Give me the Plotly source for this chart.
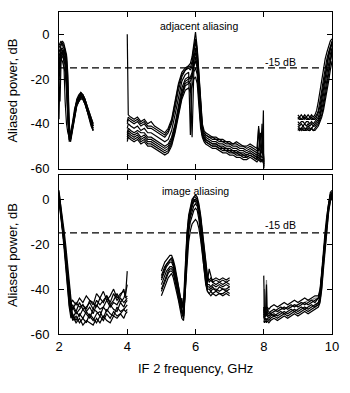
import plotly.graph_objects as go
from plotly.subplots import make_subplots

# ---------------- data ----------------
ytick_vals = [0, -20, -40, -60]
ytick_text = ["0", "-20", "-40", "-60"]
xtick_vals = [2, 4, 6, 8, 10]
xtick_text = ["2", "4", "6", "8", "10"]
threshold_db = -15
threshold_label = "-15 dB"

# Top panel: adjacent aliasing
adj_a_x = [2.0, 2.03, 2.06, 2.1, 2.14, 2.18, 2.22, 2.26, 2.3, 2.34, 2.4, 2.46, 2.52, 2.58, 2.64, 2.7, 2.76, 2.82, 2.88, 2.94, 3.0]
adj_a_y = [
    [-5, -4, -3, -5, -6, -8, -10, -22, -42, -46, -40, -34, -30, -28, -26, -27, -29, -32, -35, -38, -40],
    [-8, -6, -5, -4, -5, -7, -12, -28, -44, -47, -41, -35, -31, -29, -27, -28, -30, -33, -36, -39, -41],
    [-12, -9, -7, -6, -8, -9, -14, -32, -46, -45, -39, -33, -29, -27, -26, -27, -29, -32, -36, -39, -42],
    [-18, -10, -8, -9, -7, -10, -16, -35, -47, -48, -42, -36, -32, -30, -28, -29, -31, -34, -37, -40, -43],
    [-25, -30, -12, -8, -9, -11, -18, -38, -48, -46, -40, -34, -30, -28, -27, -28, -30, -33, -36, -38, -41],
    [-38, -15, -9, -7, -10, -12, -20, -40, -45, -44, -39, -33, -30, -28, -27, -27, -29, -32, -35, -38, -40],
    [-10, -7, -6, -8, -12, -30, -40, -44, -46, -45, -41, -35, -31, -29, -28, -28, -30, -33, -37, -40, -42],
    [-6, -5, -4, -3, -4, -6, -9, -18, -40, -47, -42, -36, -32, -30, -28, -29, -31, -34, -37, -39, -41],
    [-14, -11, -9, -10, -11, -14, -22, -36, -44, -46, -41, -35, -31, -29, -27, -28, -30, -33, -36, -39, -43],
    [-20, -13, -11, -12, -14, -17, -25, -39, -47, -45, -40, -35, -31, -30, -29, -29, -31, -34, -38, -41, -43],
]

adj_b_x = [4.0, 4.03, 4.1, 4.2, 4.3, 4.4, 4.5, 4.6, 4.7, 4.8, 4.9, 5.0, 5.1, 5.2, 5.3, 5.4, 5.5, 5.6, 5.7, 5.8,
           5.85, 5.9, 5.95, 6.0, 6.05, 6.1, 6.15, 6.2, 6.25, 6.3, 6.4, 6.5, 6.6, 6.7, 6.8, 6.9, 7.0, 7.1, 7.2, 7.3,
           7.4, 7.5, 7.6, 7.7, 7.8, 7.85, 7.9, 7.95, 7.99, 8.0]
adj_b_y = [
    [0, -36, -37, -38, -37, -39, -38, -40, -39, -41, -42, -43, -44, -42, -38, -30, -22, -17, -15, -14,
     -13, -10, -5, 1, -6, -18, -32, -40, -43, -44, -45, -46, -46, -47, -47, -48, -48, -49, -48, -49,
     -50, -50, -49, -50, -51, -42, -50, -52, -53, -56],
    [-40, -38, -39, -40, -39, -41, -40, -42, -42, -43, -44, -45, -46, -44, -40, -33, -25, -19, -16, -15,
     -16, -14, -8, -3, -9, -20, -34, -42, -44, -45, -46, -47, -47, -48, -48, -49, -49, -50, -50, -51,
     -51, -52, -51, -52, -53, -52, -44, -53, -54, -57],
    [-42, -40, -41, -42, -41, -43, -42, -44, -44, -45, -46, -47, -48, -47, -43, -36, -28, -21, -18, -17,
     -45, -20, -12, -8, -12, -24, -36, -43, -45, -46, -47, -48, -48, -49, -49, -50, -50, -51, -51, -52,
     -52, -53, -52, -53, -54, -53, -54, -55, -55, -58],
    [-44, -42, -43, -44, -43, -44, -44, -46, -46, -47, -48, -49, -50, -49, -46, -40, -31, -24, -20, -19,
     -20, -18, -14, -12, -15, -26, -38, -44, -46, -47, -48, -49, -49, -50, -51, -51, -52, -52, -53, -53,
     -54, -54, -53, -54, -55, -55, -56, -56, -57, -59],
    [-46, -44, -45, -46, -45, -47, -46, -48, -48, -49, -50, -51, -52, -51, -48, -42, -34, -27, -22, -21,
     -22, -46, -17, -15, -18, -29, -40, -45, -47, -48, -49, -50, -50, -51, -52, -52, -53, -53, -54, -54,
     -55, -55, -54, -55, -56, -41, -56, -57, -57, -60],
    [-48, -46, -47, -48, -47, -49, -48, -50, -50, -51, -52, -53, -54, -53, -50, -44, -36, -29, -25, -24,
     -26, -23, -20, -19, -22, -32, -42, -46, -48, -49, -50, -51, -51, -52, -53, -53, -54, -54, -55, -55,
     -56, -56, -55, -56, -57, -56, -57, -56, -34, -60],
    [-39, -37, -38, -39, -38, -40, -39, -41, -41, -42, -43, -44, -45, -43, -39, -31, -23, -18, -16, -14,
     -15, -12, -6, -2, -7, -19, -33, -41, -44, -45, -46, -46, -47, -47, -48, -48, -49, -49, -49, -50,
     -50, -51, -50, -51, -52, -51, -52, -53, -53, -57],
    [-45, -43, -44, -45, -44, -46, -45, -47, -47, -48, -49, -50, -51, -50, -47, -41, -33, -26, -21, -20,
     -19, -17, -11, -6, -11, -23, -37, -44, -46, -47, -48, -49, -49, -50, -50, -51, -51, -52, -52, -53,
     -53, -54, -53, -54, -55, -54, -55, -40, -56, -59],
    [-47, -45, -46, -47, -46, -48, -47, -49, -49, -50, -51, -52, -53, -52, -49, -43, -35, -28, -23, -22,
     -21, -19, -15, -10, -14, -27, -39, -45, -47, -48, -49, -50, -50, -51, -51, -52, -52, -53, -53, -54,
     -54, -55, -54, -55, -56, -55, -56, -56, -56, -58],
]

adj_c_x = [9.0, 9.05, 9.1, 9.15, 9.2, 9.25, 9.3, 9.35, 9.4, 9.45, 9.5, 9.55, 9.6, 9.65, 9.7, 9.75, 9.8, 9.85, 9.9, 9.95, 10.0]
adj_c_y = [
    [-36, -37, -36, -37, -36, -37, -36, -37, -36, -37, -36, -34, -30, -25, -20, -15, -11, -8, -5, -3, -2],
    [-38, -37, -38, -38, -37, -38, -38, -37, -38, -38, -37, -36, -34, -30, -25, -20, -15, -11, -8, -5, -3],
    [-39, -40, -39, -39, -40, -39, -39, -40, -39, -40, -39, -38, -37, -34, -29, -24, -19, -14, -10, -7, -4],
    [-40, -41, -40, -41, -40, -41, -40, -41, -40, -41, -40, -39, -38, -36, -32, -27, -22, -17, -13, -9, -6],
    [-41, -42, -42, -41, -42, -42, -41, -42, -42, -41, -41, -40, -39, -37, -34, -30, -25, -20, -15, -11, -7],
    [-42, -43, -42, -43, -43, -42, -43, -43, -42, -43, -42, -41, -40, -38, -36, -32, -28, -23, -18, -13, -8],
    [-37, -38, -38, -37, -38, -37, -38, -38, -37, -38, -38, -37, -35, -32, -27, -22, -17, -13, -9, -6, -4],
    [-43, -42, -43, -42, -43, -43, -42, -43, -42, -43, -43, -42, -41, -39, -37, -34, -30, -26, -21, -16, -12],
]

# Bottom panel: image aliasing
img_a_x = [2.0, 2.05, 2.1, 2.15, 2.2, 2.25, 2.3, 2.35, 2.4, 2.5, 2.6, 2.7, 2.8, 2.9, 3.0, 3.1, 3.2, 3.3, 3.4, 3.5,
           3.6, 3.7, 3.8, 3.9, 3.95, 4.0]
img_a_y = [
    [4, -3, -9, -15, -22, -30, -39, -46, -45, -47, -44, -46, -43, -45, -47, -42, -44, -41, -45, -43, -40, -44, -42, -41, -43, -32],
    [2, -4, -10, -17, -24, -33, -42, -48, -49, -46, -48, -47, -49, -45, -46, -48, -44, -46, -43, -47, -45, -42, -46, -44, -42, -38],
    [1, -5, -12, -19, -27, -36, -45, -50, -48, -51, -49, -47, -50, -48, -51, -47, -49, -48, -45, -48, -46, -47, -44, -46, -45, -44],
    [0, -6, -13, -20, -29, -38, -47, -51, -53, -50, -52, -49, -51, -53, -49, -50, -52, -48, -50, -47, -49, -50, -46, -48, -46, -45],
    [-1, -7, -14, -22, -31, -40, -48, -53, -51, -54, -51, -53, -50, -52, -54, -51, -50, -53, -49, -51, -52, -48, -50, -49, -48, -47],
    [2, -5, -11, -18, -26, -35, -44, -49, -54, -52, -55, -53, -55, -51, -53, -55, -52, -54, -51, -53, -50, -52, -51, -49, -50, -49],
    [3, -2, -8, -14, -21, -29, -38, -45, -52, -55, -53, -56, -54, -55, -56, -53, -55, -52, -54, -55, -52, -53, -51, -53, -51, -50],
    [1, -4, -11, -18, -25, -34, -43, -49, -47, -50, -46, -49, -48, -46, -49, -45, -47, -45, -43, -46, -42, -45, -43, -40, -44, -43],
]

img_b_x = [5.0, 5.05, 5.1, 5.15, 5.2, 5.25, 5.3, 5.35, 5.4, 5.45, 5.5, 5.55, 5.6, 5.65, 5.7, 5.75, 5.8, 5.85, 5.9, 5.95,
           6.0, 6.05, 6.1, 6.15, 6.2, 6.25, 6.3, 6.35, 6.4, 6.45, 6.5, 6.6, 6.7, 6.8, 6.9, 7.0]
img_b_y = [
    [-32, -30, -28, -27, -26, -25, -25, -27, -30, -34, -38, -43, -47, -49, -30, -16, -8, -4, -1, 1, 1, 0, -3, -8, -15, -23, -31, -35, -36, -35, -36, -35, -36, -35, -36, -35],
    [-35, -33, -31, -29, -28, -27, -27, -29, -32, -36, -40, -45, -49, -51, -35, -18, -10, -5, -2, 0, 0, -1, -4, -9, -17, -25, -33, -37, -31, -34, -37, -36, -37, -38, -37, -36],
    [-38, -36, -34, -32, -31, -30, -30, -31, -34, -38, -42, -46, -50, -52, -38, -20, -11, -6, -3, -1, -1, -2, -5, -11, -19, -27, -34, -38, -38, -39, -38, -39, -38, -39, -38, -39],
    [-41, -39, -37, -35, -33, -32, -32, -33, -36, -40, -44, -48, -51, -53, -40, -22, -13, -8, -5, -3, -2, -3, -7, -13, -21, -29, -36, -40, -40, -41, -40, -40, -41, -40, -41, -40],
    [-43, -41, -39, -37, -35, -34, -33, -35, -38, -42, -45, -49, -53, -54, -42, -24, -15, -10, -7, -5, -4, -5, -9, -15, -23, -31, -38, -41, -42, -41, -42, -41, -42, -42, -41, -42],
    [-36, -34, -32, -30, -29, -28, -28, -30, -33, -37, -41, -46, -50, -52, -40, -26, -19, -14, -11, -10, -9, -10, -13, -18, -25, -32, -37, -41, -42, -43, -42, -43, -42, -43, -42, -43],
    [-34, -32, -30, -29, -28, -27, -26, -28, -31, -35, -39, -44, -48, -45, -28, -15, -7, -3, 0, 1, 2, 1, -2, -7, -14, -22, -30, -34, -37, -36, -37, -38, -37, -36, -37, -38],
    [-40, -38, -36, -34, -32, -31, -31, -32, -35, -39, -43, -47, -44, -50, -36, -19, -10, -5, -2, -1, 0, -1, -4, -10, -18, -26, -34, -39, -39, -40, -39, -41, -39, -40, -40, -39],
]

img_c_x = [8.0, 8.02, 8.05, 8.08, 8.1, 8.15, 8.2, 8.3, 8.4, 8.5, 8.6, 8.7, 8.8, 8.9, 9.0, 9.1, 9.2, 9.3, 9.4, 9.5,
           9.6, 9.65, 9.7, 9.75, 9.8, 9.85, 9.9, 9.95, 10.0]
img_c_y = [
    [-34, -50, -48, -49, -48, -49, -48, -47, -48, -47, -46, -47, -46, -45, -46, -45, -44, -45, -44, -43, -43, -40, -32, -22, -14, -7, -1, 3, 4],
    [-48, -52, -50, -51, -50, -51, -50, -49, -50, -49, -48, -49, -48, -47, -48, -47, -46, -47, -46, -45, -44, -42, -35, -25, -16, -9, -3, 1, 3],
    [-50, -53, -52, -38, -52, -53, -52, -51, -52, -51, -50, -51, -50, -49, -50, -49, -48, -49, -48, -47, -46, -44, -37, -27, -18, -10, -4, 0, 2],
    [-52, -54, -53, -54, -53, -54, -53, -52, -53, -52, -51, -52, -51, -50, -51, -50, -49, -50, -49, -48, -47, -45, -39, -29, -20, -12, -5, -1, 2],
    [-54, -55, -54, -55, -54, -55, -54, -53, -54, -53, -52, -53, -52, -51, -52, -51, -50, -51, -50, -49, -48, -46, -40, -31, -22, -13, -6, -1, 1],
    [-49, -51, -50, -51, -49, -50, -51, -50, -49, -48, -49, -48, -47, -48, -47, -46, -47, -46, -45, -46, -44, -41, -33, -23, -15, -8, -2, 2, 3],
    [-51, -53, -51, -52, -51, -52, -51, -52, -51, -50, -51, -50, -49, -50, -49, -48, -49, -48, -47, -48, -46, -43, -36, -26, -17, -9, -3, 1, 3],
]
img_c_gray_y = [-50, -40, -52, -36, -51, -52, -51, -50, -50, -49, -49, -48, -48, -47, -47, -46, -46, -45, -45, -44, -44, -41, -34, -24, -15, -8, -2, 2, 3]

# ---------------- figure ----------------
FONT = "Liberation Sans, Arial, sans-serif"
fig = make_subplots(rows=2, cols=1, shared_xaxes=False, vertical_spacing=0.0216)

def add_dash(row):
    fig.add_trace(go.Scatter(x=[2, 10], y=[threshold_db, threshold_db], mode="lines",
                             line=dict(color="black", width=1.2, dash="7px,4px"),
                             showlegend=False, hoverinfo="skip"), row=row, col=1)

def add_group(xs, ys_list, row, color="black"):
    for ys in ys_list:
        fig.add_trace(go.Scatter(x=xs, y=ys, mode="lines",
                                 line=dict(color=color, width=1.2),
                                 showlegend=False), row=row, col=1)

add_dash(1)
add_group(adj_a_x, adj_a_y, 1)
add_group(adj_b_x, adj_b_y, 1)
add_group(adj_c_x, adj_c_y, 1)

add_dash(2)
add_group(img_c_x, [img_c_gray_y], 2, color="#808080")
add_group(img_a_x, img_a_y, 2)
add_group(img_b_x, img_b_y, 2)
add_group(img_c_x, img_c_y, 2)

axis_common = dict(showline=True, linecolor="black", linewidth=1, mirror="allticks",
                   ticks="inside", ticklen=5, tickcolor="black", tickwidth=1,
                   showgrid=False, zeroline=False,
                   tickfont=dict(family=FONT, size=13, color="black"))

fig.update_xaxes(range=[2, 10], tickvals=xtick_vals, ticktext=xtick_text, **axis_common)
fig.update_xaxes(showticklabels=False, row=1, col=1)
fig.update_yaxes(tickvals=ytick_vals, ticktext=ytick_text, ticklabelstandoff=6, **axis_common)
fig.update_yaxes(range=[-60, 10], row=1, col=1)
fig.update_yaxes(range=[-60, 10.6], row=2, col=1)

fig.update_layout(
    width=350, height=393,
    margin=dict(l=59, r=16, t=11, b=59),
    paper_bgcolor="white", plot_bgcolor="white",
    font=dict(family=FONT, size=13, color="black"),
    showlegend=False,
)
fig.layout.yaxis.domain = [0.5139, 1.0]
fig.layout.yaxis2.domain = [0.0, 0.4923]

ann_font = dict(family=FONT, size=10.5, color="black")
fig.add_annotation(x=6.1, y=3.8, xref="x", yref="y", text="adjacent aliasing", showarrow=False, font=ann_font)
fig.add_annotation(x=6.0, y=3.7, xref="x2", yref="y2", text="image aliasing", showarrow=False, font=ann_font)
fig.add_annotation(x=8.49, y=-12.2, xref="x", yref="y", text=threshold_label, showarrow=False, font=ann_font)
fig.add_annotation(x=8.49, y=-11.6, xref="x2", yref="y2", text=threshold_label, showarrow=False, font=ann_font)

title_font = dict(family=FONT, size=13, color="black")
fig.add_annotation(x=-0.171, y=0.757, xref="paper", yref="paper", text="Aliased power, dB",
                   textangle=-90, showarrow=False, font=title_font, xanchor="center", yanchor="middle")
fig.add_annotation(x=-0.171, y=0.246, xref="paper", yref="paper", text="Aliased power, dB",
                   textangle=-90, showarrow=False, font=title_font, xanchor="center", yanchor="middle")
fig.add_annotation(x=0.5, y=-0.108, xref="paper", yref="paper", text="IF 2 frequency, GHz",
                   showarrow=False, font=title_font, xanchor="center", yanchor="middle")

fig.write_html("out.html", config={"displayModeBar": False},
               post_script="document.body.style.margin='0';")
